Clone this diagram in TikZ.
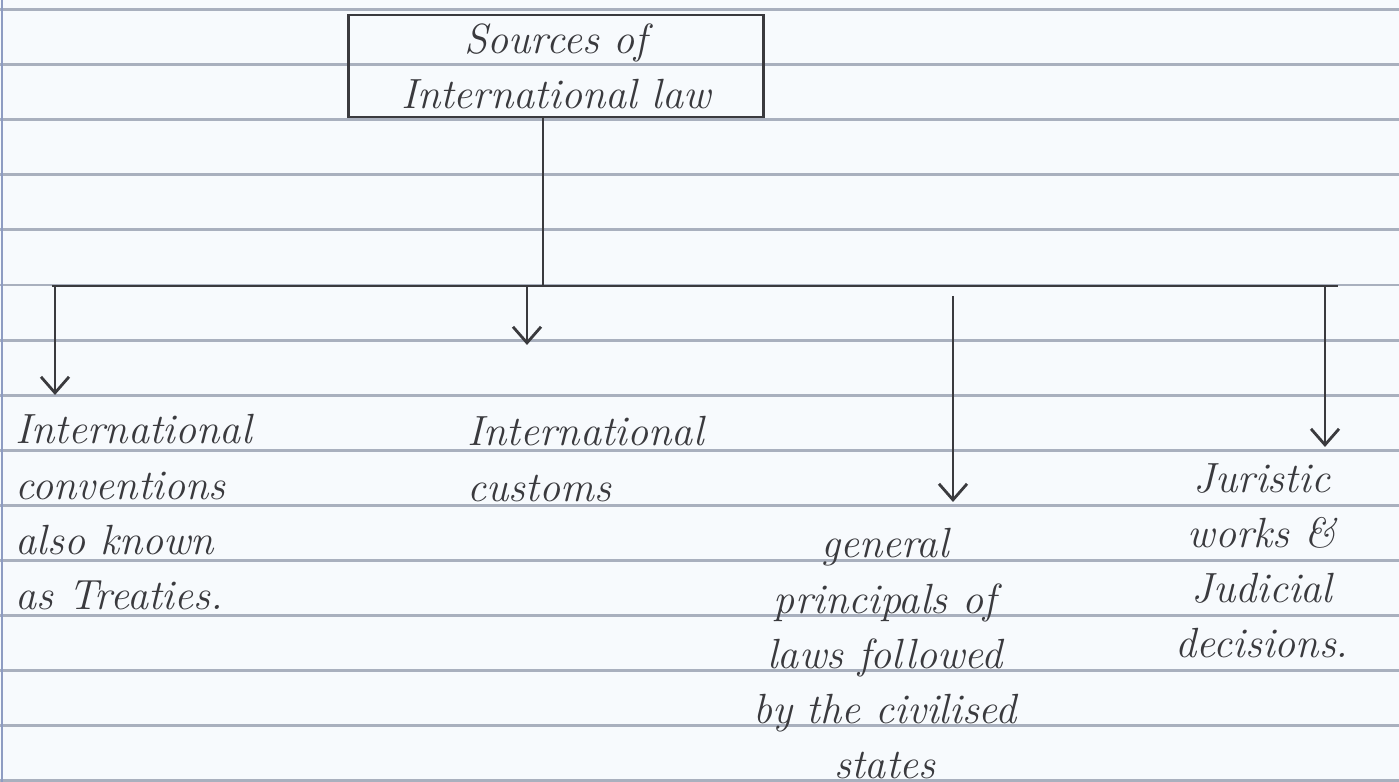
\documentclass[tikz,border=0pt]{standalone}
\usepackage{xcolor}
\usepackage{tikz}
\usetikzlibrary{arrows.meta,positioning,calc}
\definecolor{Paper}{HTML}{F7FAFD}
\definecolor{Rule}{HTML}{A9B0BE}
\definecolor{Margin}{HTML}{8E9CC2}
\definecolor{Ink}{HTML}{3A3A3E}

\begin{document}
\begin{tikzpicture}[x=0.01cm,y=-0.01cm,
    hand/.style={font=\fontsize{12}{15.65}\selectfont\itshape,text=Ink,inner sep=0pt},
    rootbox/.style={hand,rectangle,draw=Ink,thick,minimum width=4.15cm,minimum height=1.02cm,align=center},
    leaf/.style={hand,align=left},
    wire/.style={draw=Ink,thick},
    arrow/.style={-{Straight Barb[length=1.6mm,width=2.8mm]},thick,draw=Ink}
]
% ruled paper
\fill[Paper] (0,0) rectangle (1399,782);
\useasboundingbox (0,0) rectangle (1399,782);
\foreach \k in {0,...,14}
  \draw[Rule,line width=0.8pt] (0,9.5+55.1*\k) -- (1399,9.5+55.1*\k);
\draw[Margin,line width=0.8pt] (2,0) -- (2,782);

\node[rootbox] (src) at (556,66) {Sources of\\International law};
\node[leaf,anchor=north west] (conv) at (15,414) {International\\conventions\\also known\\as Treaties.};
\node[leaf,anchor=north west] (cust) at (467,416) {International\\customs};
\node[hand,align=center,anchor=north] (gen) at (885,528) {general\\principals of\\laws followed\\by the civilised\\states};
\node[hand,align=center,anchor=north] (jur) at (1262,463) {Juristic\\works \&\\Judicial\\decisions.};

% tree
\coordinate (hub) at (543,286);
\coordinate (lft) at (52,286);
\coordinate (rgt) at (1338,286);
\coordinate (b1) at (55,286);
\coordinate (b2) at (527,286);
\coordinate (b3) at (953,296);
\coordinate (b4) at (1325,286);
\draw[wire] (src.south -| hub) -- (hub);
\draw[wire] (lft) -- (rgt);
\draw[arrow,shorten >=0.19cm] (b1) -- (b1 |- conv.north);
\draw[arrow,shorten >=0.71cm] (b2) -- (b2 |- cust.north);
\draw[arrow,shorten >=0.26cm] (b3) -- (b3 |- gen.north);
\draw[arrow,shorten >=0.16cm] (b4) -- (b4 |- jur.north);
\end{tikzpicture}
\end{document}
